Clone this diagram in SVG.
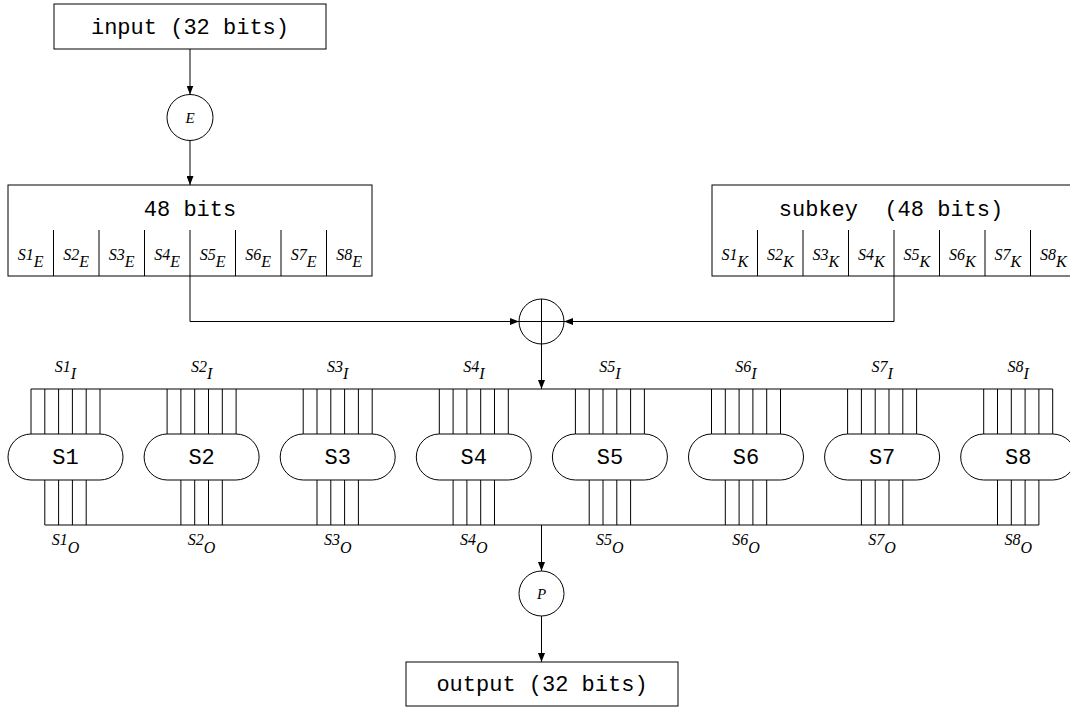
<svg xmlns="http://www.w3.org/2000/svg" width="1070" height="708" viewBox="0 0 1070 708">
<defs>
<marker id="ah" markerWidth="9" markerHeight="7" refX="9" refY="3.5" orient="auto" markerUnits="userSpaceOnUse"><path class="head" d="M0,0 L9,3.5 L0,7 z"/></marker>
<g id="sbox">
<path d="M0,389 V434 M13.8,389 V434 M27.6,389 V434 M41.4,389 V434 M55.2,389 V434 M69,389 V434"/>
<path d="M13.8,480 V525 M27.6,480 V525 M41.4,480 V525 M55.2,480 V525"/>
<rect class="pill" x="-23" y="434" width="115" height="46" rx="23" ry="23"/>
</g>
</defs>
<style>
line,path,rect,circle,polyline{stroke:#000;stroke-width:1;fill:none}
path.head{fill:#000;stroke:none}
rect.pill{fill:#fff}
rect.bg{fill:#fff;stroke:none}
.mono{font-family:"Liberation Mono","Courier New",monospace;font-size:22px;text-anchor:middle;fill:#000;white-space:pre}
.it{font-family:"Liberation Serif","Times New Roman",serif;font-style:italic;font-size:16px;text-anchor:middle;fill:#000}
.ci{font-family:"Liberation Serif","Times New Roman",serif;font-style:italic;font-size:15px;text-anchor:middle;fill:#000}
</style>
<rect class="bg" width="1070" height="708"/>

<g id="connectors">
<line x1="190" y1="49" x2="190" y2="94.5" marker-end="url(#ah)"/>
<line x1="190" y1="140.5" x2="190" y2="185" marker-end="url(#ah)"/>
<polyline points="190,276 190,321.5 519,321.5" marker-end="url(#ah)"/>
<polyline points="894,276 894,321.5 564,321.5" marker-end="url(#ah)"/>
<line x1="541.5" y1="344" x2="541.5" y2="389" marker-end="url(#ah)"/>
<line x1="31" y1="389" x2="1052.7" y2="389"/>
<line x1="44.8" y1="525" x2="1038.9" y2="525"/>
<line x1="541.5" y1="525" x2="541.5" y2="571" marker-end="url(#ah)"/>
<line x1="541.5" y1="616" x2="541.5" y2="662" marker-end="url(#ah)"/>
</g>

<g id="input">
<rect x="54" y="4" width="272" height="45"/>
<text class="mono" x="190" y="34">input (32 bits)</text>
</g>

<g id="E">
<circle cx="190" cy="117.5" r="23"/>
<text class="ci" x="190" y="123">E</text>
</g>

<g id="expanded">
<rect x="8" y="185" width="364" height="91"/>
<text class="mono" x="190" y="216">48 bits</text>
<path d="M53.5,230 V276 M99,230 V276 M144.5,230 V276 M190,230 V276 M235.5,230 V276 M281,230 V276 M326.5,230 V276"/>
<text class="it" x="30.75" y="260">S1<tspan dy="7">E</tspan></text>
<text class="it" x="76.25" y="260">S2<tspan dy="7">E</tspan></text>
<text class="it" x="121.75" y="260">S3<tspan dy="7">E</tspan></text>
<text class="it" x="167.25" y="260">S4<tspan dy="7">E</tspan></text>
<text class="it" x="212.75" y="260">S5<tspan dy="7">E</tspan></text>
<text class="it" x="258.25" y="260">S6<tspan dy="7">E</tspan></text>
<text class="it" x="303.75" y="260">S7<tspan dy="7">E</tspan></text>
<text class="it" x="349.25" y="260">S8<tspan dy="7">E</tspan></text>
</g>

<g id="subkey">
<rect x="712" y="185" width="364" height="91"/>
<text class="mono" x="891" y="216">subkey&#160; (48 bits)</text>
<path d="M757.5,230 V276 M803,230 V276 M848.5,230 V276 M894,230 V276 M939.5,230 V276 M985,230 V276 M1030.5,230 V276"/>
<text class="it" x="734.75" y="260">S1<tspan dy="7">K</tspan></text>
<text class="it" x="780.25" y="260">S2<tspan dy="7">K</tspan></text>
<text class="it" x="825.75" y="260">S3<tspan dy="7">K</tspan></text>
<text class="it" x="871.25" y="260">S4<tspan dy="7">K</tspan></text>
<text class="it" x="916.75" y="260">S5<tspan dy="7">K</tspan></text>
<text class="it" x="962.25" y="260">S6<tspan dy="7">K</tspan></text>
<text class="it" x="1007.75" y="260">S7<tspan dy="7">K</tspan></text>
<text class="it" x="1053.25" y="260">S8<tspan dy="7">K</tspan></text>
</g>

<g id="xor">
<circle cx="541.5" cy="321.5" r="22.5"/>
<path d="M519,321.5 H564 M541.5,299 V344"/>
</g>

<g id="S1"><use href="#sbox" transform="translate(31,0)"/><text class="mono" x="65.5" y="464">S1</text><text class="it" x="65.5" y="372">S1<tspan dy="7">I</tspan></text><text class="it" x="65.5" y="545">S1<tspan dy="8">O</tspan></text></g>
<g id="S2"><use href="#sbox" transform="translate(167.1,0)"/><text class="mono" x="201.6" y="464">S2</text><text class="it" x="201.6" y="372">S2<tspan dy="7">I</tspan></text><text class="it" x="201.6" y="545">S2<tspan dy="8">O</tspan></text></g>
<g id="S3"><use href="#sbox" transform="translate(303.2,0)"/><text class="mono" x="337.7" y="464">S3</text><text class="it" x="337.7" y="372">S3<tspan dy="7">I</tspan></text><text class="it" x="337.7" y="545">S3<tspan dy="8">O</tspan></text></g>
<g id="S4"><use href="#sbox" transform="translate(439.3,0)"/><text class="mono" x="473.8" y="464">S4</text><text class="it" x="473.8" y="372">S4<tspan dy="7">I</tspan></text><text class="it" x="473.8" y="545">S4<tspan dy="8">O</tspan></text></g>
<g id="S5"><use href="#sbox" transform="translate(575.4,0)"/><text class="mono" x="609.9" y="464">S5</text><text class="it" x="609.9" y="372">S5<tspan dy="7">I</tspan></text><text class="it" x="609.9" y="545">S5<tspan dy="8">O</tspan></text></g>
<g id="S6"><use href="#sbox" transform="translate(711.5,0)"/><text class="mono" x="746" y="464">S6</text><text class="it" x="746" y="372">S6<tspan dy="7">I</tspan></text><text class="it" x="746" y="545">S6<tspan dy="8">O</tspan></text></g>
<g id="S7"><use href="#sbox" transform="translate(847.6,0)"/><text class="mono" x="882.1" y="464">S7</text><text class="it" x="882.1" y="372">S7<tspan dy="7">I</tspan></text><text class="it" x="882.1" y="545">S7<tspan dy="8">O</tspan></text></g>
<g id="S8"><use href="#sbox" transform="translate(983.7,0)"/><text class="mono" x="1018.2" y="464">S8</text><text class="it" x="1018.2" y="372">S8<tspan dy="7">I</tspan></text><text class="it" x="1018.2" y="545">S8<tspan dy="8">O</tspan></text></g>

<g id="P">
<circle cx="541.5" cy="593.5" r="22.5"/>
<text class="ci" x="541.5" y="599">P</text>
</g>

<g id="output">
<rect x="406" y="662" width="272" height="44"/>
<text class="mono" x="542" y="691">output (32 bits)</text>
</g>
</svg>
